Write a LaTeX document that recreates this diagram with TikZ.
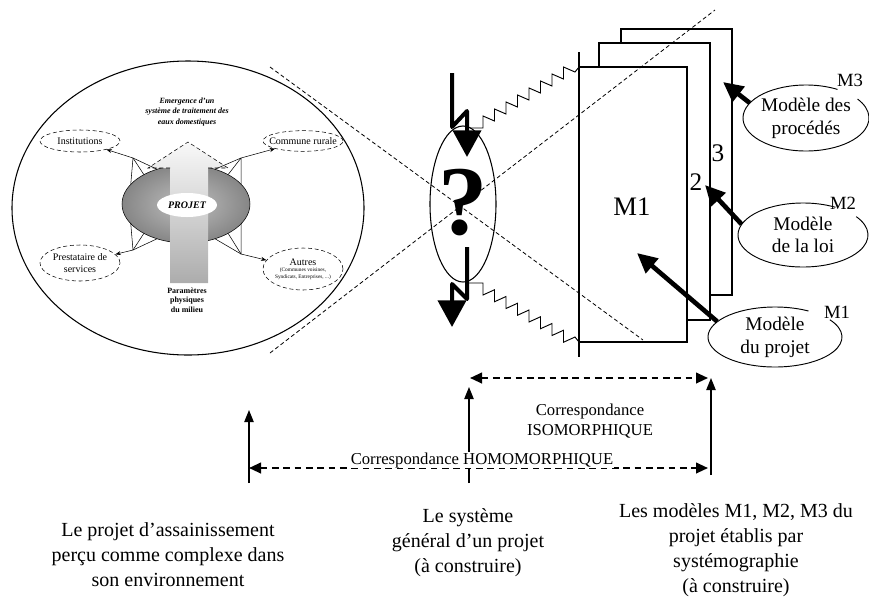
\documentclass[tikz,border=0pt]{standalone}
\usepackage{fontspec}
\setmainfont{Liberation Serif}
\usepackage{tikz}
\usetikzlibrary{arrows,arrows.meta,shapes.geometric,positioning}
\tikzstyle{bulle} = [ellipse, draw, densely dashed, line width=0.4pt, inner sep=0pt]
\tikzstyle{petit} = [align=center, font=\fontsize{7.5}{8.5}\selectfont]
\tikzstyle{fleche} = [line width=0.4pt,-{Stealth[length=4pt,width=3pt]}]
\tikzstyle{grosse} = [line width=3pt, line join=round,-{Triangle[length=20pt,width=21pt]}]
\tikzstyle{modele} = [line width=3.5pt,-{Triangle[length=15pt,width=14pt]}]
\tikzstyle{corresp} = [line width=1.5pt, dash pattern=on 5pt off 3.5pt,{Triangle[length=9pt,width=8pt]}-{Triangle[length=9pt,width=8pt]}]
\tikzstyle{repere} = [line width=0.9pt,-{Triangle[length=9pt,width=7pt]}]
\tikzstyle{cone} = [dash pattern=on 3pt off 2pt, line width=0.6pt]
\tikzstyle{texte} = [align=center, font=\fontsize{15}{18.75}\selectfont]
\tikzstyle{bulletexte} = [align=center, font=\fontsize{14.5}{17}\selectfont]

\begin{document}
\begin{tikzpicture}[x=0.75pt,y=0.75pt]
\useasboundingbox (0,0) rectangle (869,-601);

% le projet dans son environnement
\node[ellipse, draw, line width=0.8pt, minimum width=264pt, minimum height=220.5pt] (envir) at (188,-208) {};
\node[ellipse, draw, inner color=gray!50, outer color=gray!95, minimum width=96pt, minimum height=58.5pt] (anneau) at (186,-204) {};
\shade[top color=gray!5, bottom color=gray!65] (170,-283) -- (170,-168) -- (148,-168) -- (188,-142)
    -- (228,-168) -- (208,-168) -- (208,-283) -- cycle;
\draw[densely dashed, line width=0.4pt] (170,-168) -- (148,-168) -- (188,-142) -- (228,-168) -- (208,-168);
\node[ellipse, fill=white, minimum width=45pt, minimum height=18pt, inner sep=0pt,
    font=\fontsize{7.5}{8}\selectfont\bfseries\itshape] (projet) at (187,-205) {PROJET};
\node[align=center, font=\fontsize{6}{8}\selectfont\bfseries\itshape] (emerg) at (187,-112)
    {Emergence d'un\\système de traitement des\\eaux domestiques};
\node[align=center, font=\fontsize{6}{7.2}\selectfont\bfseries] (param) at (187,-300)
    {Paramètres\\physiques\\du milieu};

\node[bulle, minimum width=60pt, minimum height=16.5pt] (instit) at (80,-141) {};
\node[petit] (instit-t) at (instit) {Institutions};
\node[bulle, minimum width=60pt, minimum height=15.5pt] (commune) at (303,-141) {};
\node[petit] (commune-t) at (commune) {Commune rurale};
\node[bulle, minimum width=60pt, minimum height=27pt] (presta) at (80,-263) {};
\node[petit] (presta-t) at (presta) {Prestataire de\\services};
\node[bulle, minimum width=60pt, minimum height=31.5pt] (autres) at (303,-269) {};
\node[align=center, font=\fontsize{4}{5}\selectfont] (autres-t) at (autres)
    {{\fontsize{7.5}{8.5}\selectfont Autres}\\(Communes voisines,\\Syndicats, Entreprises, ...)};

\coordinate (jInst) at (133,-158);
\coordinate (jComm) at (241,-158);
\coordinate (jPresta) at (133,-250);
\coordinate (jAutres) at (241,-254);
\foreach \a in {130,145,160} \draw[line width=0.4pt] (anneau.\a) -- (jInst);
\foreach \a in {20,35,50} \draw[line width=0.4pt] (anneau.\a) -- (jComm);
\foreach \a in {200,215,230} \draw[line width=0.4pt] (anneau.\a) -- (jPresta);
\foreach \a in {310,325,340} \draw[line width=0.4pt] (anneau.\a) -- (jAutres);
\draw[fleche] (jInst) -- (instit);
\draw[fleche] (jComm) -- (commune);
\draw[fleche] (jPresta) -- (presta);
\draw[fleche] (jAutres) -- (autres);

% les modeles M1, M2, M3
\draw[fill=white, line width=0.9pt] (621,-29) rectangle (732,-295);
\draw[fill=white, line width=0.9pt] (599,-43) rectangle (710,-320);
\draw[fill=white, line width=0.9pt] (579,-67) rectangle (687,-342);
\draw[line width=0.9pt] (579,-52) -- (579,-357);
\node[font=\fontsize{20}{20}\selectfont] (lblUn) at (632,-207) {M1};
\node[font=\fontsize{19}{19}\selectfont] (lblDeux) at (696,-182) {2};
\node[font=\fontsize{19}{19}\selectfont] (lblTrois) at (718,-153) {3};

% le systeme general
\node[ellipse, draw, line width=0.8pt, minimum width=49.5pt, minimum height=117pt] (inter) at (463,-204) {};
\node[font=\fontsize{74}{74}\selectfont\bfseries] (quest) at (463,-203) {?};

\coordinate (rA) at (470,-128);
\coordinate (m1hg) at (579,-67);
\coordinate (rB) at (467,-283);
\coordinate (m1bg) at (579,-342);
\draw[line width=0.7pt] (rA) -- ++(13,0) \foreach \i in {1,...,8} { -- ++(0,12) -- ++(11.5,-5) } -- (m1hg);
\draw[line width=0.7pt] (rB) -- ++(16,0) \foreach \i in {1,...,8} { -- ++(0,-12) -- ++(11.5,5.25) } -- (m1bg);

\coordinate (hautA) at (452,-73);
\coordinate (hautB) at (467,-157);
\coordinate (basA) at (467,-247);
\coordinate (basB) at (452,-327);
\draw[grosse] (hautA) -- (452,-127) -- (467,-111) -- (hautB);
\draw[grosse] (basA) -- (467,-299) -- (452,-284) -- (basB);

% les droites pointillees
\coordinate (coneA) at (270,-67);
\coordinate (coneB) at (643,-340);
\coordinate (coneC) at (270,-353);
\coordinate (coneD) at (715,-10);
\draw[cone] (coneA) -- (coneB);
\draw[cone] (coneC) -- (coneD);

% les bulles des modeles
\node[ellipse, minimum width=94.5pt, minimum height=49.5pt] (proc) at (806,-118) {};
\node[bulletexte] (proc-t) at (proc) {Modèle des\\procédés};
\draw[line width=0.7pt] (proc.center) ++(60:63 and 33) arc[start angle=60, end angle=395, x radius=63, y radius=33];
\node[font=\fontsize{14}{14}\selectfont] (etTrois) at (850,-80) {M3};
\node[ellipse, minimum width=97.5pt, minimum height=48pt] (loi) at (803,-235) {};
\node[bulletexte] (loi-t) at (loi) {Modèle\\de la loi};
\draw[line width=0.7pt] (loi.center) ++(60:65 and 32) arc[start angle=60, end angle=395, x radius=65, y radius=32];
\node[font=\fontsize{14}{14}\selectfont] (etDeux) at (843,-203) {M2};
\node[ellipse, minimum width=100.5pt, minimum height=45pt] (projm) at (775,-337) {};
\node[bulletexte] (projm-t) at (projm) {Modèle\\du projet};
\draw[line width=0.7pt] (projm.center) ++(60:67 and 30) arc[start angle=60, end angle=395, x radius=67, y radius=30];
\node[font=\fontsize{14}{14}\selectfont] (etUn) at (837,-312) {M1};

\coordinate (pTrois) at (723,-82);
\coordinate (pDeux) at (705,-185);
\coordinate (pUn) at (637,-253);
\draw[modele] (proc.165) -- (pTrois);
\draw[modele] (loi.170) -- (pDeux);
\draw[modele] (projm.165) -- (pUn);

% les correspondances
\coordinate (vGb) at (249,-483);
\coordinate (vGh) at (249,-410);
\coordinate (vMb) at (469,-483);
\coordinate (vMh) at (469,-387);
\coordinate (vDb) at (711,-475);
\coordinate (vDh) at (711,-378);
\draw[repere] (vGb) -- (vGh);
\draw[repere] (vMb) -- (vMh);
\draw[repere] (vDb) -- (vDh);
\coordinate (isoG) at (470,-378);
\coordinate (isoD) at (708,-378);
\coordinate (homG) at (249,-468);
\coordinate (homD) at (708,-468);
\draw[corresp] (isoG) -- (isoD);
\draw[corresp] (homG) -- (homD);
\node[align=center, font=\fontsize{12.5}{14.5}\selectfont] (iso) at (590,-421) {Correspondance\\ISOMORPHIQUE};
\node[fill=white, inner sep=0.5pt, font=\fontsize{12.5}{14}\selectfont] (homo) at (482,-460) {Correspondance HOMOMORPHIQUE};

% les legendes
\node[texte] (txtEnv) at (168,-555) {Le projet d'assainissement\\perçu comme complexe dans\\son environnement};
\node[texte] (txtSys) at (468,-543) {Le système\\général d'un projet\\(à construire)};
\node[texte] (txtMod) at (736,-550) {Les modèles M1, M2, M3 du\\projet établis par\\systémographie\\(à construire)};
\end{tikzpicture}
\end{document}
